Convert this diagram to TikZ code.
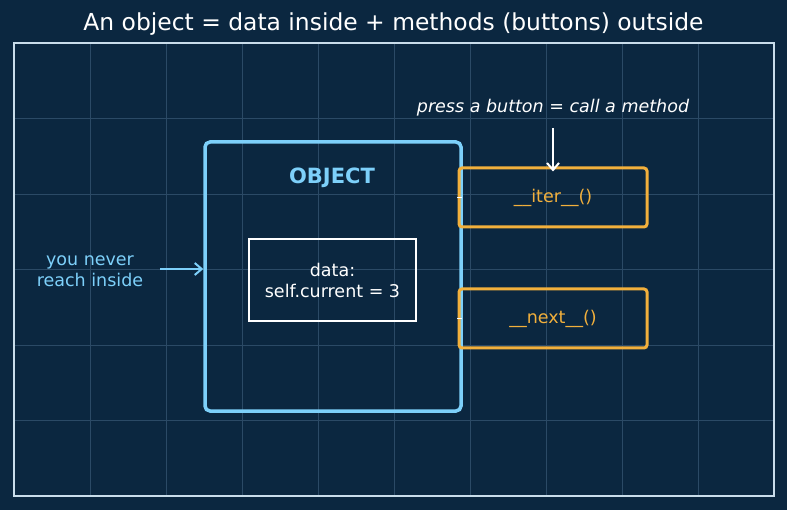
\documentclass[tikz,border=0pt]{standalone}
\usepackage{fontspec}
\setmainfont{DejaVu Sans}
\usetikzlibrary{arrows.meta}

\definecolor{bgnavy}{HTML}{0B2740}
\definecolor{gridline}{HTML}{2B4A66}
\definecolor{framecol}{HTML}{C9DDEB}
\definecolor{skyblue}{HTML}{7DD0FA}
\definecolor{btnorange}{HTML}{F2B03C}

\tikzset{
  objbox/.style={draw=skyblue, line width=3.5pt, rounded corners=5pt,
    minimum width=256pt, minimum height=269pt},
  databox/.style={draw=white, line width=2pt, align=center, text=white,
    minimum width=167pt, minimum height=82pt, font=\fontsize{17.5}{21}\selectfont},
  button/.style={draw=btnorange, line width=3pt, rounded corners=3pt, text=btnorange,
    minimum width=188pt, minimum height=59pt, font=\fontsize{17.5}{21}\selectfont},
  note/.style={align=center, font=\fontsize{17.5}{20.5}\selectfont},
  arr/.style={-{Straight Barb[length=7pt,width=12pt]}, line width=2pt}
}

\begin{document}
\begin{tikzpicture}[x=1pt,y=-1pt]
  \useasboundingbox (0,0) rectangle (787,510);
  \fill[bgnavy] (0,0) rectangle (787,510);

  % Grid
  \foreach \x in {1,...,9}
    \draw[gridline, line width=0.8pt] (14+76*\x,43) -- (14+76*\x,496);
  \foreach \y in {1,...,5}
    \draw[gridline, line width=0.8pt] (14,43+75.5*\y) -- (774,43+75.5*\y);
  \draw[framecol, line width=1.8pt] (14,43) rectangle (774,496);

  \node[text=white, font=\fontsize{23.4}{28}\selectfont] (title) at (393.5,24) {An object = data inside + methods (buttons) outside};

  % Object and its data
  \node[objbox] (obj) at (333,276.5) {};
  \node[text=skyblue, font=\fontsize{21}{24}\selectfont\bfseries] (objlabel) at (332,178) {OBJECT};
  \node[databox] (data) at (332.5,280) {data:\\self.current = 3};

  % Buttons
  \node[button] (iter) at (553,197.5) {\_\_iter\_\_()};
  \node[button] (next) at (553,318.5) {\_\_next\_\_()};
  \coordinate (itertick) at (457,197.5);
  \coordinate (nexttick) at (457,318.5);
  \draw[white, line width=1.5pt] (itertick) -- ([xshift=4pt]iter.west);
  \draw[white, line width=1.5pt] (nexttick) -- ([xshift=4pt]next.west);

  % Labels
  \node[note, text=white, font=\fontsize{17.5}{20}\selectfont\itshape] (press) at (553,108) {press a button = call a method};
  \coordinate (pressstart) at (553,128);
  \draw[arr, white] (pressstart) -- ([yshift=-5pt]iter.north);
  \node[note, text=skyblue] (never) at (90,271) {you never\\reach inside};
  \coordinate (nevertail) at (160,269);
  \draw[arr, skyblue] (nevertail) -- (obj.west |- nevertail);
\end{tikzpicture}
\end{document}
